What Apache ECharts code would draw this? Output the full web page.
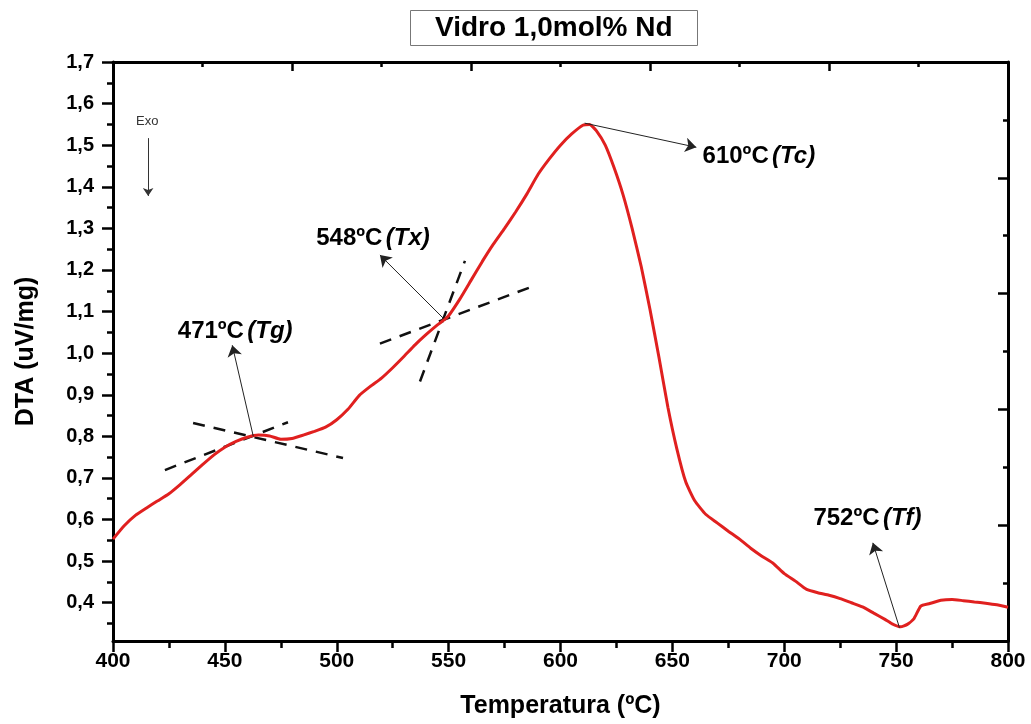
<!DOCTYPE html>
<html>
<head>
<meta charset="utf-8">
<script src="https://cdn.jsdelivr.net/npm/echarts@6/dist/echarts.min.js"></script>
<style>
html,body{margin:0;padding:0;background:#fff;}
#chart{width:1031px;height:724px;}
</style>
</head>
<body>
<div id="chart"></div>
<script>
// ---- data ----
const temps = [400,405,410,415,420,425,430,435,440,445,450,455,460,465,470,475,480,485,490,495,500,505,510,515,520,525,530,535,540,545,548,550,555,560,565,570,575,580,585,590,595,600,605,610,613,616,620,624,628,632,636,640,644,648,652,656,660,665,670,675,680,685,690,695,700,705,710,715,720,725,730,735,740,745,748,752,755,758,761,765,770,775,780,785,790,795,800];
const dta = [0.553,0.585,0.610,0.628,0.645,0.662,0.684,0.708,0.732,0.755,0.774,0.788,0.798,0.803,0.801,0.793,0.795,0.803,0.812,0.822,0.840,0.865,0.898,0.920,0.940,0.965,0.992,1.020,1.045,1.068,1.080,1.090,1.130,1.175,1.220,1.262,1.300,1.340,1.383,1.430,1.467,1.500,1.527,1.548,1.550,1.535,1.500,1.445,1.380,1.300,1.210,1.105,0.990,0.870,0.770,0.690,0.645,0.612,0.592,0.572,0.553,0.531,0.512,0.495,0.470,0.452,0.432,0.424,0.418,0.410,0.400,0.390,0.375,0.360,0.350,0.342,0.348,0.362,0.392,0.398,0.406,0.408,0.405,0.402,0.399,0.395,0.389];

const yTickValues = [0.4,0.5,0.6,0.7,0.8,0.9,1.0,1.1,1.2,1.3,1.4,1.5,1.6,1.7];
const yMinorValues = [0.35,0.45,0.55,0.65,0.75,0.85,0.95,1.05,1.15,1.25,1.35,1.45,1.55,1.65];

// tangent construction lines
const tgTangentA = [[423.2,0.719],[478.2,0.834]];
const tgTangentB = [[435.8,0.832],[502.8,0.748]];
const txTangentA = [[519.3,1.023],[586.3,1.158]];
const txTangentB = [[537.2,0.932],[557.3,1.222]];

// annotation arrows [from, to]
const tgArrow = [[462.7,0.800],[453.3,1.019]];
const txArrow = [[547.6,1.084],[519.3,1.236]];
const tcArrow = [[610.8,1.553],[660.7,1.495]];
const tfArrow = [[751.5,0.340],[739.6,0.544]];
const exoArrow = [[415.7,1.517],[415.7,1.378]];

// annotation labels
const tgLabel = {pos:[454.6,1.052], temp:'471ºC', tag:'(Tg)'};
const txLabel = {pos:[516.2,1.275], temp:'548ºC', tag:'(Tx)'};
const tcLabel = {pos:[663.5,1.474], temp:'610ºC', tag:'(Tc)'};
const tfLabel = {pos:[737.2,0.604], temp:'752ºC', tag:'(Tf)'};
const exoLabel = {pos:[415.3,1.558], text:'Exo'};

const chart = echarts.init(document.getElementById('chart'));
const fmt = v => v.toFixed(1).replace('.', ',');
const black = '#000';
const FONT = 'Liberation Sans, Arial, sans-serif';
const dashStyle = {color:'#111', width:2.5, type:[12,9]};
const rich = {
  a:{fontFamily:FONT, fontWeight:'bold', fontSize:24, color:'#000', textBorderWidth:0},
  b:{fontFamily:FONT, fontWeight:'bold', fontStyle:'italic', fontSize:24, color:'#000', textBorderWidth:0}
};
function annLabel(l, position){
  return {value:l.pos, label:{show:true, position:position, distance:0, color:'#000', textBorderWidth:0,
    fontWeight:'bold', fontFamily:FONT, formatter:'{a|'+l.temp+'} {b|'+l.tag+'}', rich:rich}};
}

const option = {
  animation:false,
  backgroundColor:'#fff',
  title:{
    text:'Vidro 1,0mol% Nd', left:410, top:10,
    borderColor:'#777', borderWidth:1, padding:[4,25,4,25],
    textStyle:{fontFamily:FONT, fontWeight:'bold', fontSize:28, color:'#000'}
  },
  grid:{left:113, right:23, top:62, bottom:81},
  xAxis:[{
    type:'value', position:'bottom', min:400, max:800, interval:50,
    axisLine:{lineStyle:{color:black, width:3}},
    axisTick:{inside:false, length:11, lineStyle:{color:black, width:2.5}},
    minorTick:{show:true, splitNumber:2, length:7, lineStyle:{color:black, width:2.5}},
    splitLine:{show:false},
    axisLabel:{margin:10, fontFamily:FONT, fontWeight:'bold', fontSize:21, color:'#000'},
    name:'Temperatura (ºC)', nameLocation:'middle', nameGap:53,
    nameTextStyle:{fontFamily:FONT, fontWeight:'bold', fontSize:25, color:'#000'}
  },{
    type:'value', position:'top', min:0, max:5, interval:1,
    axisLine:{lineStyle:{color:black, width:3}},
    axisTick:{inside:true, length:9, lineStyle:{color:black, width:2.5}},
    minorTick:{show:true, splitNumber:2, length:5, lineStyle:{color:black, width:2.5}},
    splitLine:{show:false}, axisLabel:{show:false}
  }],
  yAxis:[{
    type:'value', position:'left', min:0.308, max:1.7,
    axisLine:{lineStyle:{color:black, width:3}},
    axisTick:{inside:false, length:11, customValues:yTickValues, lineStyle:{color:black, width:2.5}},
    splitLine:{show:false},
    axisLabel:{margin:19, customValues:yTickValues, formatter:fmt, fontFamily:FONT, fontWeight:'bold', fontSize:20, color:'#000'},
    name:'DTA (uV/mg)', nameLocation:'middle', nameGap:74,
    nameTextStyle:{fontFamily:FONT, fontWeight:'bold', fontSize:25, color:'#000'}
  },{
    type:'value', position:'left', min:0.308, max:1.7,
    axisLine:{show:false},
    axisTick:{inside:false, length:6, customValues:yMinorValues, lineStyle:{color:black, width:2.5}},
    splitLine:{show:false}, axisLabel:{show:false}
  },{
    type:'value', position:'right', min:0, max:5, interval:1,
    axisLine:{lineStyle:{color:black, width:3}},
    axisTick:{inside:true, length:10, lineStyle:{color:black, width:2.5}},
    minorTick:{show:true, splitNumber:2, length:5, lineStyle:{color:black, width:2.5}},
    splitLine:{show:false}, axisLabel:{show:false}
  }],
  series:[
    {type:'line', data:tgTangentA, showSymbol:false, symbol:'none', lineStyle:dashStyle, silent:true},
    {type:'line', data:tgTangentB, showSymbol:false, symbol:'none', lineStyle:dashStyle, silent:true},
    {type:'line', data:txTangentA, showSymbol:false, symbol:'none', lineStyle:dashStyle, silent:true},
    {type:'line', data:txTangentB, showSymbol:false, symbol:'none', lineStyle:dashStyle, silent:true},
    {
      type:'line', name:'DTA', data:temps.map((t,i)=>[t,dta[i]]),
      showSymbol:false, symbol:'none', smooth:0.15,
      lineStyle:{color:'#e0201f', width:3}, z:5
    },
    {
      type:'lines', coordinateSystem:'cartesian2d',
      symbol:['none','arrow'], symbolSize:11,
      lineStyle:{color:'#222', width:1, opacity:1},
      data:[tgArrow, txArrow, tcArrow, tfArrow].map(c=>({coords:c})), z:6
    },
    {
      type:'lines', coordinateSystem:'cartesian2d',
      symbol:['none','arrow'], symbolSize:8,
      lineStyle:{color:'#333', width:1, opacity:1},
      data:[{coords:exoArrow}], z:6
    },
    {
      type:'scatter', symbolSize:0, silent:true, z:7, itemStyle:{color:'#000', opacity:1},
      data:[
        annLabel(tgLabel,'inside'),
        annLabel(txLabel,'inside'),
        annLabel(tcLabel,'right'),
        annLabel(tfLabel,'inside'),
        {value:exoLabel.pos, label:{show:true, position:'inside', formatter:exoLabel.text, fontFamily:FONT, fontSize:13, color:'#333', textBorderWidth:0}}
      ]
    }
  ]
};
chart.setOption(option);
</script>
</body>
</html>
